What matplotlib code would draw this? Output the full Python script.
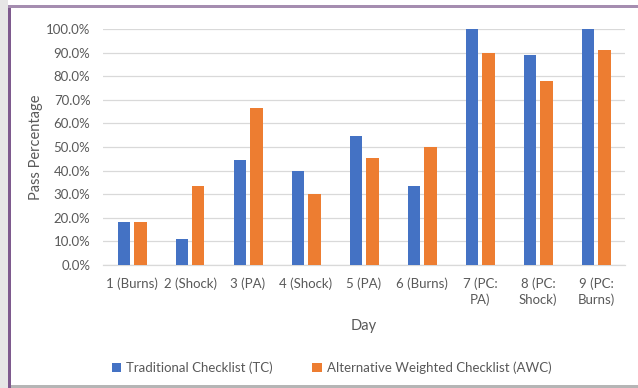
import numpy as np
import matplotlib.pyplot as plt
from matplotlib.patches import Rectangle
from matplotlib.ticker import PercentFormatter

days = ["1 (Burns)", "2 (Shock)", "3 (PA)", "4 (Shock)", "5 (PA)",
        "6 (Burns)", "7 (PC:\nPA)", "8 (PC:\nShock)", "9 (PC:\nBurns)"]
tc = [18.2, 11.1, 44.4, 40.0, 54.5, 33.3, 100.0, 88.9, 100.0]
awc = [18.2, 33.3, 66.7, 30.0, 45.5, 50.0, 90.0, 77.8, 90.9]

BLUE = "#4472C4"
ORANGE = "#ED7D31"
TEXT = "#595959"

plt.rcParams["font.family"] = ["Lato", "DejaVu Sans"]

W, H = 638, 388
fig = plt.figure(figsize=(W / 100, H / 100), dpi=100)
fig.patch.set_facecolor("white")

# screenshot frame: grey strip left, purple edges top/left, grey bottom edge
fig.add_artist(Rectangle((0, 0), 8 / W, 1, transform=fig.transFigure,
                         facecolor="#E6E6E6", edgecolor="none", zorder=-2))
fig.add_artist(Rectangle((8 / W, 0), 3 / W, 1 - 5 / H, transform=fig.transFigure,
                         facecolor="#7E5A8E", edgecolor="none", zorder=-1))
fig.add_artist(Rectangle((8 / W, 1 - 8 / H), 1 - 8 / W, 3 / H,
                         transform=fig.transFigure, facecolor="#A58DB0",
                         edgecolor="none", zorder=-1))
fig.add_artist(Rectangle((11 / W, 0), 1 - 11 / W, 3 / H,
                         transform=fig.transFigure, facecolor="#B5B5B5",
                         edgecolor="none", zorder=-1))

ax = fig.add_axes([103 / W, 123 / H, 522 / W, 236 / H])
x = np.arange(len(days))
w = 0.224
off = 0.138
ax.bar(x - off, tc, w, color=BLUE, label="Traditional Checklist (TC)", zorder=3)
ax.bar(x + off, awc, w, color=ORANGE, label="Alternative Weighted Checklist (AWC)", zorder=3)

ax.set_xlim(-0.5, len(days) - 0.5)
ax.set_ylim(0, 100)
ax.set_yticks(np.arange(0, 101, 10))
ax.yaxis.set_major_formatter(PercentFormatter(decimals=1))
ax.grid(axis="y", color="#D9D9D9", linewidth=0.9, zorder=0)
for s in ["top", "right", "left"]:
    ax.spines[s].set_visible(False)
ax.spines["bottom"].set_color("#D9D9D9")
ax.spines["bottom"].set_linewidth(0.9)
ax.set_xticks(x)
ax.set_xticklabels(days, linespacing=1.35)
ax.tick_params(axis="both", length=0, colors=TEXT, labelsize=9.5)
ax.tick_params(axis="x", pad=9)
ax.tick_params(axis="y", pad=9)
ax.set_facecolor("white")

ax.set_ylabel("Pass Percentage", color=TEXT, fontsize=10.5, labelpad=2)
ax.set_xlabel("Day", color=TEXT, fontsize=10.5, labelpad=9)

leg = ax.legend(loc="center", bbox_to_anchor=(0.438, -0.435), ncol=2, frameon=False,
                fontsize=9.5, handlelength=0.7, handleheight=0.7, handletextpad=0.4,
                columnspacing=3.0)
for t in leg.get_texts():
    t.set_color(TEXT)

fig.savefig("out.png", dpi=100)
